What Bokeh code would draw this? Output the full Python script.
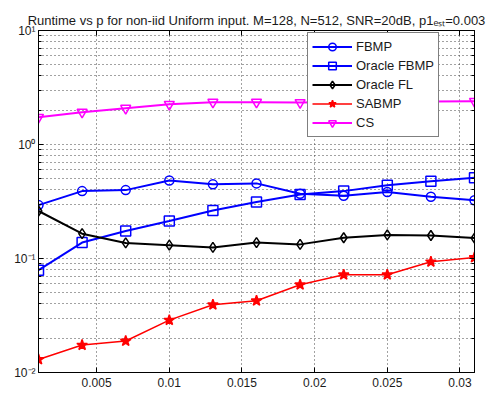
from bokeh.plotting import figure
from bokeh.models import (LogAxis, LinearAxis, FixedTicker, Legend,
                          CustomLabelingPolicy)
from bokeh.embed import file_html
from bokeh.resources import INLINE

# ---- data ----
p_values = [0.001, 0.004, 0.007, 0.010, 0.013, 0.016, 0.019, 0.022, 0.025, 0.028, 0.031]
fbmp = [0.294, 0.39, 0.398, 0.484, 0.447, 0.456, 0.37, 0.355, 0.383, 0.348, 0.324]
oracle_fbmp = [0.079, 0.138, 0.174, 0.213, 0.264, 0.313, 0.365, 0.39, 0.44, 0.477, 0.51]
oracle_fl = [0.261, 0.165, 0.137, 0.131, 0.125, 0.138, 0.133, 0.152, 0.161, 0.159, 0.151]
sabmp = [0.013, 0.0174, 0.0189, 0.0288, 0.0393, 0.0426, 0.0588, 0.072, 0.072, 0.0935, 0.102]
cs = [1.73, 1.92, 2.08, 2.25, 2.35, 2.35, 2.33, 2.36, 2.37, 2.38, 2.39]

x_ticks = [0.005, 0.01, 0.015, 0.02, 0.025, 0.03]
x_tick_labels = ["0.005", "0.01", "0.015", "0.02", "0.025", "0.03"]
y_ticks = [0.01, 0.1, 1, 10]
y_tick_labels = ["10\u207b\u00b2", "10\u207b\u00b9", "10\u2070", "10\u00b9"]
y_minor = [m * d for d in [0.01, 0.1, 1] for m in range(2, 10)]

title_text = ("Runtime vs p for non-iid Uniform input. M=128, N=512, SNR=20dB, "
              "p1\u2091\u209b\u209c=0.003")

FONT = "Liberation Sans"
TXT = "#1a1a1a"

p = figure(width=487, height=397, x_axis_type="linear", y_axis_type="log",
           x_range=(0.001, 0.031), y_range=(0.01, 10),
           output_backend="svg", toolbar_location=None,
           min_border_left=38, min_border_right=13, min_border_top=30, min_border_bottom=25)
p.outline_line_color = "black"
p.outline_line_width = 1
p.background_fill_color = "white"
p.border_fill_color = "white"

p.title.text = title_text
p.title.align = "center"
p.title.text_font = FONT
p.title.text_font_size = "13px"
p.title.text_font_style = "normal"
p.title.text_color = TXT
p.title.standoff = 6

xt = FixedTicker(ticks=x_ticks)
yt = FixedTicker(ticks=y_ticks, minor_ticks=y_minor)

p.xaxis.ticker = xt
p.yaxis.ticker = yt
p.xaxis.major_label_overrides = dict(zip(x_ticks, x_tick_labels))
p.yaxis.major_label_overrides = dict(zip(y_ticks, y_tick_labels))

for ax in (p.xaxis[0], p.yaxis[0]):
    ax.major_tick_in = 5
    ax.major_tick_out = 0
    ax.minor_tick_in = 3
    ax.minor_tick_out = 0
    ax.axis_line_color = "black"
    ax.major_tick_line_color = "black"
    ax.minor_tick_line_color = "black"
    ax.major_label_text_font = FONT
    ax.major_label_text_font_size = "12px"
    ax.major_label_text_color = TXT
p.xaxis.major_label_standoff = 5
p.yaxis.major_label_standoff = 3

# mirrored axes (ticks only) on top and right
hide = "return new Set()"
ra = LogAxis(ticker=yt, major_label_policy=CustomLabelingPolicy(code=hide),
             major_label_standoff=-40, major_label_text_font_size="8px",
             major_tick_in=5, major_tick_out=0, minor_tick_in=3, minor_tick_out=0,
             axis_line_color="black")
ta = LinearAxis(ticker=xt, major_label_policy=CustomLabelingPolicy(code=hide),
                major_label_standoff=-30, major_label_text_font_size="8px",
                major_tick_in=5, major_tick_out=0, minor_tick_line_color=None,
                axis_line_color="black")
p.add_layout(ra, "right")
p.add_layout(ta, "above")

# grid
p.xgrid.ticker = xt
p.ygrid.ticker = yt
for g in (p.xgrid[0], p.ygrid[0]):
    g.grid_line_color = "#444444"
    g.grid_line_dash = "1 3"
    g.grid_line_width = 1
p.ygrid.minor_grid_line_color = "#444444"
p.ygrid.minor_grid_line_dash = "1 3"

items = []
def series(y, color, marker, size, label, lw=2, fill=None):
    r1 = p.line(p_values, y, line_color=color, line_width=lw)
    r2 = p.scatter(p_values, y, marker=marker, size=size, line_color=color,
                   line_width=1.5, fill_color=fill)
    items.append((label, [r1, r2]))

series(fbmp, "#0000ff", "circle", 9, "FBMP")
series(oracle_fbmp, "#0000ff", "square", 10, "Oracle FBMP")
series(oracle_fl, "#000000", "diamond", 10, "Oracle FL")
series(sabmp, "#ff0000", "star", 11, "SABMP", lw=1.5, fill="#ff0000")
series(cs, "#ff00ff", "inverted_triangle", 10, "CS")

legend = Legend(items=items, location=(269, 235))
legend.label_text_font = FONT
legend.label_text_font_size = "13px"
legend.label_text_color = TXT
legend.glyph_width = 40
legend.glyph_height = 19
legend.label_height = 19
legend.spacing = 0
legend.padding = 4
legend.margin = 0
legend.label_standoff = 4
legend.border_line_color = "black"
legend.border_line_width = 1
legend.background_fill_color = "white"
legend.background_fill_alpha = 1
p.add_layout(legend, "center")

open("out.html", "w").write(file_html(p, INLINE))
